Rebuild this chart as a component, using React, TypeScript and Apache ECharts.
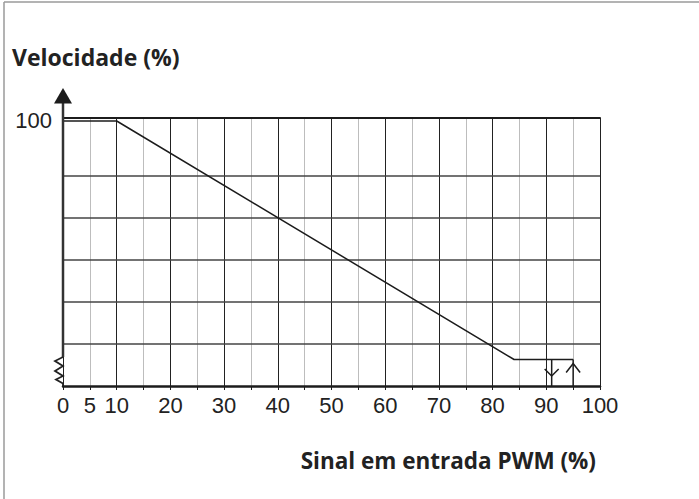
import React, { useEffect, useRef } from "react";
import * as echarts from "echarts";

// PWM input (%) tick labels shown under the x axis
const pwmTickLabels = ["0", "5", "10", "20", "30", "40", "50", "60", "70", "80", "90", "100"];
// Speed (%) tick labels on the y axis
const speedTickLabels = ["100"];

// Speed curve: full speed up to 10 % PWM, linear drop, minimum plateau
const curvePwm = [0, 10, 84, 95];
const curveSpeed = [100, 100, 10, 10];

// Horizontal reference levels of the grid (speed %)
const speedGridLevels = [15.8, 31.7, 47.5, 63.4, 79.2];

// Hysteresis arrows: stop below 91 %, start at 95 %
const arrowPwm = [91, 95];
const arrowSpeed = [10, 10];
const arrowDirection = [-1, 1]; // -1 = down, 1 = up

const SPEED_MAX = 101.13;
const INK = "#1c1c1c";
const TICK_FONT = "'Liberation Sans', Arial, sans-serif";
const TITLE_FONT = "'Open Sans', 'Noto Sans', sans-serif";

export default function App() {
  const ref = useRef<HTMLDivElement>(null);

  useEffect(() => {
    document.body.style.margin = "0";
    if (!ref.current) return;
    const chart = echarts.init(ref.current, undefined, { renderer: "svg" });

    const option: any = {
      animation: false,
      backgroundColor: "#ffffff",
      grid: { left: 63, right: 99, top: 118, bottom: 113, containLabel: false },
      xAxis: [
        {
          type: "value",
          min: 0,
          max: 100,
          interval: 5,
          axisLine: { show: true, onZero: false, lineStyle: { color: INK, width: 2.5 } },
          axisTick: { show: true, length: 4, lineStyle: { color: INK, width: 1 } },
          axisLabel: {
            margin: 8,
            fontSize: 22,
            color: "#222",
            fontFamily: TICK_FONT,
            formatter: (v: number) => (pwmTickLabels.includes(String(v)) ? String(v) : ""),
          },
          splitLine: { show: true, lineStyle: { color: ["#222", "#bdbdbd"], width: 1 } },
        },
        {
          type: "value",
          position: "top",
          min: 0,
          max: 100,
          axisLine: { show: true, onZero: false, lineStyle: { color: INK, width: 2 } },
          axisTick: { show: false },
          axisLabel: { show: false },
          splitLine: { show: false },
        },
      ],
      yAxis: {
        type: "value",
        min: 0,
        max: SPEED_MAX,
        interval: 100,
        axisLine: { show: false },
        axisTick: { show: false },
        splitLine: { show: false },
        axisLabel: {
          margin: 11,
          fontSize: 22,
          color: "#222",
          fontFamily: TICK_FONT,
          formatter: (v: number) => (speedTickLabels.includes(String(v)) ? String(v) : ""),
        },
      },
      series: [
        {
          type: "line",
          data: curvePwm.map((x, i) => [x, curveSpeed[i]]),
          symbol: "none",
          lineStyle: { color: INK, width: 1.5 },
          z: 5,
          markLine: {
            silent: true,
            symbol: "none",
            label: { show: false },
            lineStyle: { color: "#444", width: 1.5, type: "solid" },
            data: speedGridLevels.map((v) => ({ yAxis: v })),
            z: 3,
          },
        },
        {
          // hysteresis arrows
          type: "custom",
          clip: false,
          z: 6,
          data: arrowPwm.map((x, i) => [x, arrowSpeed[i], arrowDirection[i]]),
          renderItem: (_p: any, api: any) => {
            const top = api.coord([api.value(0), api.value(1)]);
            const bottom = api.coord([api.value(0), 0]);
            const dir = api.value(2);
            const x = top[0];
            const style = { stroke: INK, lineWidth: 1.5, fill: "none" };
            let head: number[][];
            if (dir < 0) {
              const tip = bottom[1] - 10;
              head = [[x - 7, tip - 7], [x, tip], [x + 7, tip - 7]];
            } else {
              const tip = top[1] + 4;
              head = [[x - 7, tip + 9], [x, tip], [x + 7, tip + 9]];
            }
            return {
              type: "group",
              children: [
                { type: "line", shape: { x1: x, y1: top[1], x2: x, y2: bottom[1] }, style },
                { type: "polyline", shape: { points: head }, style },
              ],
            };
          },
        },
        {
          // y axis with arrow head and axis break
          type: "custom",
          clip: false,
          z: 7,
          data: [[0, 0]],
          renderItem: (_p: any, api: any) => {
            const o = api.coord([0, 0]);
            const t = api.coord([0, SPEED_MAX]);
            const ox = o[0];
            const oy = o[1];
            const base = t[1] - 15;
            const zig = [
              [ox, oy - 29],
              [ox - 8, oy - 25],
              [ox, oy - 20],
              [ox - 8, oy - 15],
              [ox, oy - 10],
              [ox - 7, oy - 6.5],
              [ox, oy - 2.5],
              [ox, oy],
            ];
            return {
              type: "group",
              children: [
                {
                  type: "line",
                  shape: { x1: ox, y1: base, x2: ox, y2: oy - 29 },
                  style: { stroke: "#333", lineWidth: 2.5 },
                },
                {
                  type: "polyline",
                  shape: { points: zig },
                  style: { stroke: "#222", lineWidth: 1.8, fill: "none" },
                },
                {
                  type: "polygon",
                  shape: { points: [[ox, base - 15], [ox - 9, base + 0.5], [ox + 9, base + 0.5]] },
                  style: { fill: INK },
                },
              ],
            };
          },
        },
      ],
      graphic: [
        {
          type: "line",
          shape: { x1: 4, y1: 2, x2: 4, y2: 499 },
          style: { stroke: "#9a9a9a", lineWidth: 1.5 },
        },
        {
          type: "line",
          shape: { x1: 4, y1: 2, x2: 699, y2: 2 },
          style: { stroke: "#9a9a9a", lineWidth: 1.5 },
        },
        {
          type: "text",
          x: 12,
          y: 57,
          style: {
            text: "Velocidade (%)",
            font: `bold 23px ${TITLE_FONT}`,
            fill: "#222",
            textAlign: "left",
            textVerticalAlign: "middle",
          },
        },
        {
          type: "text",
          x: 596,
          y: 460,
          style: {
            text: "Sinal em entrada PWM (%)",
            font: `bold 22.5px ${TITLE_FONT}`,
            fill: "#222",
            textAlign: "right",
            textVerticalAlign: "middle",
          },
        },
      ],
    };

    chart.setOption(option);
    return () => chart.dispose();
  }, []);

  return <div ref={ref} style={{ width: 699, height: 499 }} />;
}
